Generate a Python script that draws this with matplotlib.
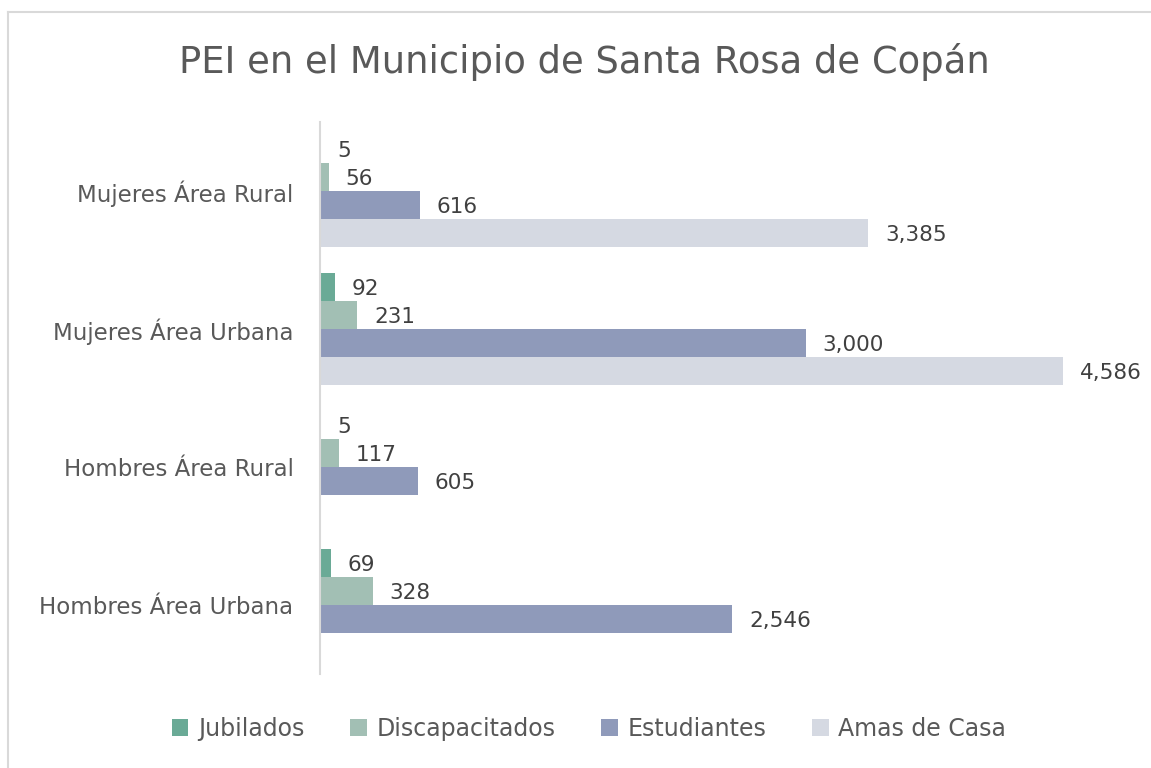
import matplotlib.pyplot as plt
from matplotlib.lines import Line2D
from matplotlib.patches import Patch
import numpy as np

plt.rcParams['font.family'] = ['DejaVu Sans']

categories = ["Mujeres Área Rural", "Mujeres Área Urbana",
              "Hombres Área Rural", "Hombres Área Urbana"]
series = ["Jubilados", "Discapacitados", "Estudiantes", "Amas de Casa"]
jubilados = [5, 92, 5, 69]
discapacitados = [56, 231, 117, 328]
estudiantes = [616, 3000, 605, 2546]
amas_de_casa = [3385, 4586, None, None]  # no data for men

values = [jubilados, discapacitados, estudiantes, amas_de_casa]
colors = ["#6aaa96", "#a2bfb4", "#8f9aba", "#d5d9e2"]
text_col = "#595959"

fig = plt.figure(figsize=(11.51, 7.68), dpi=100)
ax = fig.add_axes([320 / 1151, 1 - 674 / 768, 810 / 1151, 552 / 768])

y = np.arange(len(categories))
h = 0.203
for k, (name, vals, c) in enumerate(zip(series, values, colors)):
    offs = (k - 1.5) * h
    for i, v in enumerate(vals):
        if v is None:
            continue
        ax.barh(y[i] + offs, v, height=h, color=c)
        ax.annotate(f"{v:,}", (v, y[i] + offs), xytext=(12, -1.5),
                    textcoords="offset points", ha="left", va="center",
                    fontsize=15.5, color="#404040")

ax.set_xlim(0, 5000)
ax.set_ylim(3.5, -0.5)
ax.set_yticks(y)
ax.set_yticklabels(categories, fontsize=16.5, color=text_col)
ax.tick_params(axis="y", length=0, pad=19)
ax.set_xticks([])
for s in ["top", "right", "bottom"]:
    ax.spines[s].set_visible(False)
ax.spines["left"].set_color("#d9d9d9")
ax.spines["left"].set_linewidth(1.5)

fig.suptitle("PEI en el Municipio de Santa Rosa de Copán", x=584 / 1151, y=1 - 62 / 768,
             va="center", fontsize=26.6, color=text_col)

handles = [Patch(facecolor=c, edgecolor="none") for c in colors]
fig.legend(handles, series, loc="center", bbox_to_anchor=(589 / 1151, 1 - 729 / 768),
           ncol=4, frameon=False, fontsize=17, labelcolor=text_col,
           handlelength=0.7, handleheight=0.7, handletextpad=0.4,
           columnspacing=1.95)

# outer chart frame
fig.add_artist(Line2D([8 / 1151, 1], [1 - 12 / 768] * 2, color="#d9d9d9", lw=1.5))
fig.add_artist(Line2D([8 / 1151] * 2, [0, 1 - 12 / 768], color="#d9d9d9", lw=1.5))

fig.savefig("out.png", dpi=100)
